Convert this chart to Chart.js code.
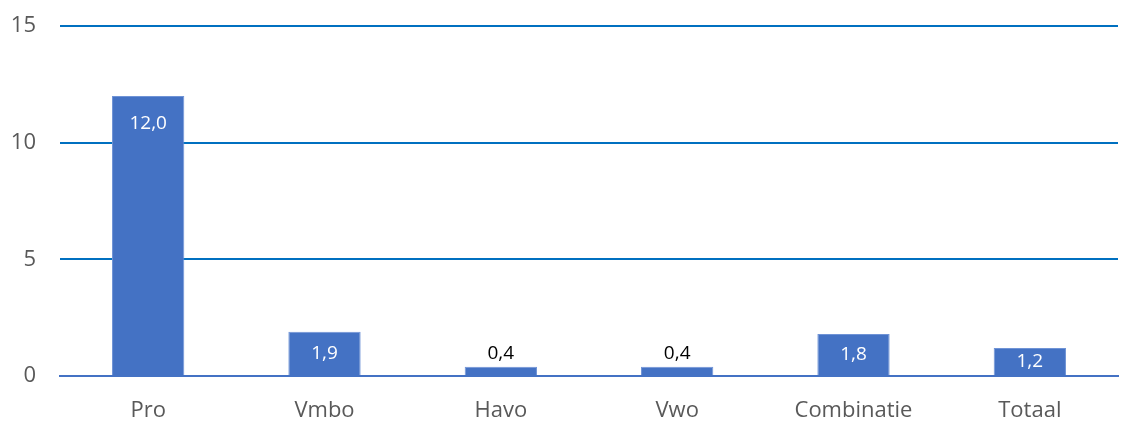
<!DOCTYPE html>
<html>
<head>
<meta charset="utf-8">
<script src="https://cdn.jsdelivr.net/npm/chart.js@4"></script>
<style>
  html, body { margin: 0; padding: 0; background: #ffffff; }
  #wrap { width: 1122px; height: 423px; }
</style>
</head>
<body>
<div id="wrap"><canvas id="barChart"></canvas></div>
<script>
// Data
const categories = ['Pro', 'Vmbo', 'Havo', 'Vwo', 'Combinatie', 'Totaal'];
const values = [12.0, 1.9, 0.4, 0.4, 1.8, 1.2];
const yTicks = [0, 5, 10, 15];

const fontFamily = "'Open Sans', 'Noto Sans', sans-serif";

// Value labels: inside the bar near its top (white), above very small bars (black)
const valueLabels = {
  id: 'valueLabels',
  afterDatasetsDraw(chart) {
    const ctx = chart.ctx;
    const meta = chart.getDatasetMeta(0);
    ctx.save();
    ctx.font = '19px ' + fontFamily;
    ctx.textAlign = 'center';
    ctx.textBaseline = 'middle';
    meta.data.forEach((bar, i) => {
      const text = values[i].toFixed(1).replace('.', ',');
      const h = bar.base - bar.y;
      if (h > 20) {
        ctx.fillStyle = '#ffffff';
        ctx.fillText(text, bar.x, Math.min(bar.y + 28, (bar.y + bar.base) / 2));
      } else {
        ctx.fillStyle = '#000000';
        ctx.fillText(text, bar.x, bar.y - 13);
      }
    });
    ctx.restore();
  },
};

new Chart(document.getElementById('barChart'), {
  type: 'bar',
  data: {
    labels: categories,
    datasets: [
      {
        data: values,
        backgroundColor: '#4472C4',
        borderColor: '#6F93D6',
        borderWidth: 1,
        categoryPercentage: 1,
        barPercentage: 0.41,
      },
    ],
  },
  options: {
    responsive: true,
    maintainAspectRatio: false,
    animation: false,
    layout: { padding: { top: 26, right: 4, bottom: 0, left: 0 } },
    plugins: {
      legend: { display: false },
      tooltip: { enabled: false },
    },
    scales: {
      x: {
        afterFit: (axis) => {
          axis.height = 47;
        },
        grid: { display: false, drawTicks: false },
        border: { color: '#4472C4', width: 2 },
        ticks: {
          color: '#595959',
          font: { family: fontFamily, size: 22 },
          padding: 22,
        },
      },
      y: {
        min: 0,
        max: 15,
        afterBuildTicks: (axis) => {
          axis.ticks = yTicks.map((v) => ({ value: v }));
        },
        afterFit: (axis) => {
          axis.width = 60;
          axis.paddingTop = 0;
          axis.paddingBottom = 0;
        },
        grid: {
          color: (c) => (c.tick && c.tick.value === 0 ? 'rgba(0,0,0,0)' : '#0070C0'),
          lineWidth: 2,
          drawTicks: false,
        },
        border: { display: false },
        ticks: {
          color: '#595959',
          font: { family: fontFamily, size: 22 },
          padding: 24,
        },
      },
    },
  },
  plugins: [valueLabels],
});
</script>
</body>
</html>
